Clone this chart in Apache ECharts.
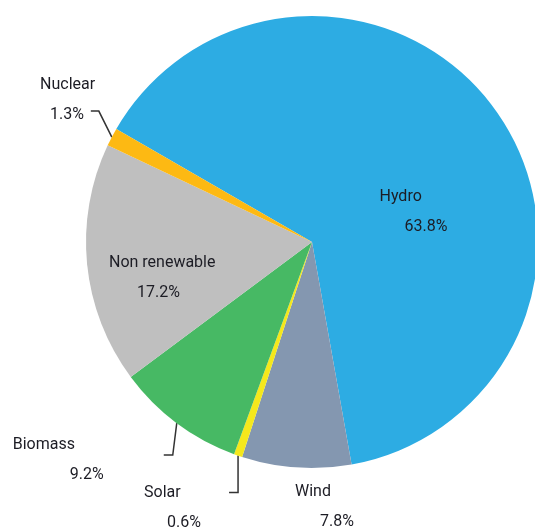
<!DOCTYPE html>
<html>
<head>
<meta charset="utf-8">
<script src="https://cdn.jsdelivr.net/npm/echarts@6/dist/echarts.min.js"></script>
<style>
  html, body { margin: 0; padding: 0; background: #ffffff; }
  #chart { width: 535px; height: 529px; }
</style>
</head>
<body>
<div id="chart"></div>
<script>
// Electricity generation mix, share of total (%)
const categories = ['Hydro', 'Wind', 'Solar', 'Biomass', 'Non renewable', 'Nuclear'];
const shares = [63.8, 7.8, 0.6, 9.2, 17.2, 1.3];

const sliceColors = ['#2dace3', '#8497b0', '#f5e81c', '#47b964', '#bfbfbf', '#fdb913'];

// Label block offset from each slice's anchor (inside centre or outer-edge midpoint)
const labelOffsets = [[-27.5, 37], [-1.4, 40], [-94, 52], [-164, 37], [-87.6, 24.5], [-71.8, -37]];
// Indent of the percentage line under the name
const valueIndent = [25, 25, 23, 57, 28, 10];
// Leader line: first leg [dx, dy] from the edge, then horizontal leg length
const leaderBends = [null, null, [0, 37, -9], [-4, 32, -9], null, [-13, -26, -8]];
const insideLabels = ['Hydro', 'Non renewable'];

const textColor = '#1c1c24';
const fontFamily = 'Roboto, "Noto Sans", sans-serif';

const rich = {
  n: { fontSize: 16, lineHeight: 30, color: textColor, fontFamily: fontFamily }
};
valueIndent.forEach(function (pad, i) {
  rich['v' + i] = { fontSize: 16, lineHeight: 30, color: textColor, fontFamily: fontFamily, padding: [0, 0, 0, pad] };
});

const seriesData = categories.map(function (name, i) {
  const item = { name: name, value: shares[i], itemStyle: { color: sliceColors[i] } };
  if (insideLabels.indexOf(name) >= 0) {
    item.label = { position: 'inside' };
    item.labelLine = { show: false };
  } else if (!leaderBends[i]) {
    item.labelLine = { lineStyle: { opacity: 0 } };
  }
  return item;
});

const chart = echarts.init(document.getElementById('chart'), null, { renderer: 'canvas' });

chart.setOption({
  backgroundColor: '#ffffff',
  animation: false,
  series: [{
    type: 'pie',
    center: [312, 242],
    radius: 226,
    startAngle: 150,
    clockwise: true,
    avoidLabelOverlap: false,
    itemStyle: { borderWidth: 0 },
    emphasis: { disabled: true },
    label: {
      show: true,
      position: 'outside',
      formatter: function (p) {
        return '{n|' + p.name + '}\n{v' + p.dataIndex + '|' + p.value + '%}';
      },
      rich: rich
    },
    labelLine: {
      show: true,
      length: 10,
      length2: 10,
      smooth: false,
      lineStyle: { color: '#333333', width: 1.5 }
    },
    labelLayout: function (params) {
      const i = params.dataIndex;
      const off = labelOffsets[i];
      const inside = insideLabels.indexOf(categories[i]) >= 0;
      let ax, ay;
      if (inside || !params.labelLinePoints) {
        const r = params.labelRect;
        ax = r.x + r.width / 2;
        ay = r.y + r.height / 2;
      } else {
        ax = params.labelLinePoints[0][0];
        ay = params.labelLinePoints[0][1];
      }
      const out = { x: ax + off[0], y: ay + off[1], align: 'left', verticalAlign: 'middle' };
      if (!inside) {
        const b = leaderBends[i];
        if (b) {
          const p1 = [ax + b[0], ay + b[1]];
          out.labelLinePoints = [[ax, ay], p1, [p1[0] + b[2], p1[1]]];
        } else {
          out.labelLinePoints = [[ax, ay], [ax, ay], [ax, ay]];
        }
      }
      return out;
    },
    data: seriesData
  }]
});
</script>
</body>
</html>
